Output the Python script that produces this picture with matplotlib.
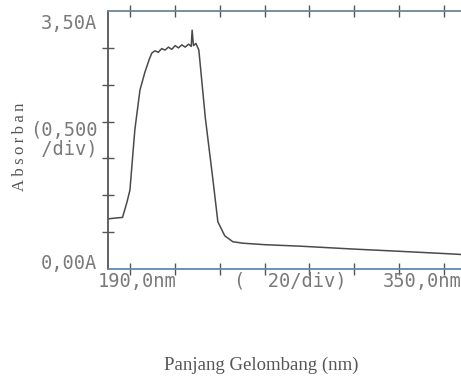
import matplotlib
matplotlib.use("Agg")
import matplotlib.pyplot as plt
import numpy as np

# spectrum (wavelength nm, absorbance A)
wavelength = [190.0, 193.0, 196.5, 198.5, 199.8, 202.0, 204.3, 206.5, 208.5, 209.6,
              211.0, 212.5, 214.0, 215.5, 217.0, 218.5, 220.0, 221.5, 223.0, 224.5,
              226.0, 227.2, 227.6, 228.2, 229.3, 230.6, 233.5, 236.9, 239.1, 242.2,
              245.8, 250.3, 260.0, 275.7, 300.0, 320.4, 340.0, 352.0]
absorbance = [0.68, 0.69, 0.70, 0.91, 1.07, 1.89, 2.43, 2.67, 2.85, 2.93,
              2.96, 2.94, 2.99, 2.97, 3.01, 2.98, 3.03, 3.00, 3.04, 3.01,
              3.05, 3.02, 3.24, 3.03, 3.06, 2.97, 2.05, 1.21, 0.64, 0.45,
              0.37, 0.35, 0.33, 0.31, 0.27, 0.24, 0.21, 0.19]

x_min, x_max = 190, 350
y_min, y_max = 0.0, 3.5

fig = plt.figure(figsize=(4.61, 3.77), dpi=100)
ax = fig.add_axes([108 / 461, 108 / 377, 358 / 461, 258 / 377])

ax.plot(wavelength, absorbance, color="#4a4a4a", lw=1.1)

ax.set_xlim(x_min, x_max)
ax.set_ylim(y_min, y_max)
ax.set_xticks(np.arange(200, 350, 20))
ax.set_yticks(np.arange(0.5, 3.5, 0.5))
ax.set_xticklabels([])
ax.set_yticklabels([])
ax.tick_params(direction="inout", length=8, width=1.0, colors="#555555",
               top=True, bottom=True, left=True, right=False)

ax.spines["right"].set_visible(False)
ax.spines["left"].set_color("#555555")
ax.spines["top"].set_color("#6d8596")
ax.spines["bottom"].set_color("#5f89b0")
for s in ["left", "top", "bottom"]:
    ax.spines[s].set_linewidth(1.3)

# printer style labels
mono = dict(family="DejaVu Sans Mono", color="#7a7a7a", fontsize=13.5)
ax.text(-0.03, 0.953, "3,50A", transform=ax.transAxes, ha="right", va="center", **mono)
ax.text(-0.03, 0.023, "0,00A", transform=ax.transAxes, ha="right", va="center", **mono)
ax.text(-0.03, 0.50, "(0,500\n /div)", transform=ax.transAxes, ha="right",
        va="center", linespacing=0.95, **mono)
ax.text(-0.03, -0.01, "190,0nm", transform=ax.transAxes, ha="left", va="top", **mono)
ax.text(0.51, -0.01, "(  20/div)", transform=ax.transAxes, ha="center", va="top", **mono)
ax.text(0.767, -0.01, "350,0nm", transform=ax.transAxes, ha="left", va="top", **mono)

fig.text(20 / 461, 1 - 147 / 377, "A\u2009b\u2009s\u2009o\u2009r\u2009b\u2009a\u2009n",
         rotation=90, ha="center", va="center",
         family="Liberation Serif", fontsize=12, color="#555555")
fig.text(261 / 461, 1 - 365 / 377, "Panjang Gelombang (nm)", ha="center", va="center",
         family="Liberation Serif", fontsize=13.5, color="#555555")

fig.savefig("out.png", dpi=100)
